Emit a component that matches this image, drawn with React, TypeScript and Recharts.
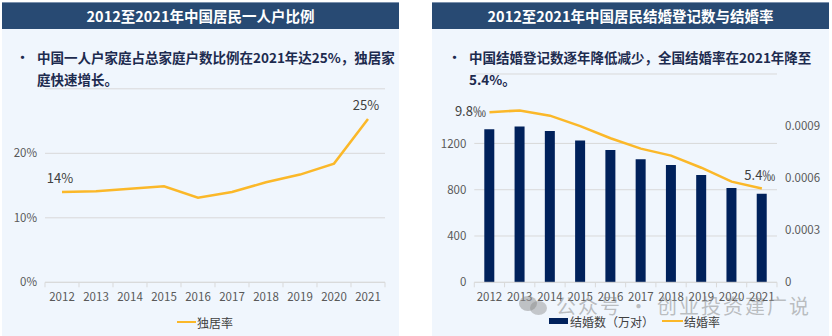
import React from "react";
import { LineChart, Line, XAxis, YAxis, CartesianGrid, ComposedChart, Bar, LabelList } from "recharts";

const years = ["2012", "2013", "2014", "2015", "2016", "2017", "2018", "2019", "2020", "2021"];
// 独居率 (%)
const aloneRate = [14.0, 14.1, 14.5, 14.9, 13.1, 14.0, 15.5, 16.7, 18.4, 25.3];
const aloneTicks = [0, 10, 20];
// 结婚数（万对）
const marriages = [1323.6, 1346.9, 1306.7, 1224.7, 1142.8, 1063.1, 1013.9, 927.3, 814.3, 764.3];
// 结婚率 (as drawn on the right axis)
const marriageRate = [0.00098, 0.00099, 0.00096, 0.0009, 0.00083, 0.00077, 0.00073, 0.00066, 0.00058, 0.00054];
const countTicks = [0, 400, 800, 1200];
const rateTicks = [0, 0.0003, 0.0006, 0.0009];

const FONT = '"Noto Sans CJK SC", "Noto Sans", sans-serif';
const NAVY = "#284a73";
const PANEL = "#f0f6fd";
const GOLD = "#fbb829";
const BAR = "#00215b";
const GRID = "#d9d9d9";
const TICK = "#595959";

const aloneData = years.map((y, i) => ({ year: y, rate: aloneRate[i] }));
const marriageData = years.map((y, i) => ({ year: y, count: marriages[i], rate: marriageRate[i] }));

function BoundaryTick(props: any) {
  const { x, y, payload, half, count } = props;
  const index = props.index ?? payload.index;
  return (
    <g>
      <line x1={x - half} y1={y} x2={x - half} y2={y + 5} stroke={GRID} />
      {index === count - 1 && <line x1={x + half} y1={y} x2={x + half} y2={y + 5} stroke={GRID} />}
      <text x={x} y={y + 19} textAnchor="middle" fill={TICK} fontSize={11.5} fontFamily={FONT}>
        {payload.value}
      </text>
    </g>
  );
}

function EndLabel(props: any) {
  const { x, y, value, index, fmt, side } = props;
  if (index !== 0 && index !== years.length - 1) return null;
  const s = index === 0 ? side[0] : side[1];
  const lx = s === "left" ? x - 19 : x - 2;
  const ly = s === "left" ? y + 4 : y - 9;
  return (
    <text x={lx} y={ly} textAnchor="middle" fill="#404040" fontSize={13} fontFamily={FONT}>
      {fmt(value)}
    </text>
  );
}

function Header({ left, title }: { left: number; title: string }) {
  return (
    <div
      style={{
        position: "absolute",
        left,
        top: 2,
        width: 397,
        height: 27,
        background: NAVY,
        borderTop: "1px solid #7b91ad",
        boxSizing: "border-box",
        color: "#fff",
        fontWeight: 700,
        fontSize: 14.5,
        lineHeight: "26px",
        textAlign: "center",
      }}
    >
      {title}
    </div>
  );
}

function Bullet({ left, children }: { left: number; children: React.ReactNode }) {
  return (
    <>
      <div style={{ position: "absolute", left, top: 46, fontSize: 13, lineHeight: "22px", color: "#1d2b4f", fontWeight: 700 }}>•</div>
      <div
        style={{
          position: "absolute",
          left: left + 21,
          top: 46,
          fontSize: 13.5,
          lineHeight: "22px",
          color: "#1d2b4f",
          fontWeight: 700,
          whiteSpace: "nowrap",
        }}
      >
        {children}
      </div>
    </>
  );
}

export default function App() {
  return (
    <div style={{ position: "absolute", left: 0, top: 0, width: 832, height: 336, background: "#fff", fontFamily: FONT, overflow: "hidden" }}>
      <div style={{ position: "absolute", left: 2, top: 29, width: 397, height: 307, background: PANEL }} />
      <div style={{ position: "absolute", left: 432, top: 29, width: 397, height: 307, background: PANEL }} />
      <Header left={2} title="2012至2021年中国居民一人户比例" />
      <Header left={432} title="2012至2021年中国居民结婚登记数与结婚率" />
      <Bullet left={16}>
        中国一人户家庭占总家庭户数比例在2021年达25%，独居家
        <br />
        庭快速增长。
      </Bullet>
      <Bullet left={448}>
        中国结婚登记数逐年降低减少，全国结婚率在2021年降至
        <br />
        5.4%。
      </Bullet>

      <div style={{ position: "absolute", left: 0, top: 0 }}>
        <LineChart width={400} height={336} data={aloneData} margin={{ top: 88.8, right: 15, left: 0, bottom: 23.7 }}>
          <CartesianGrid vertical={false} stroke={GRID} />
          <XAxis
            dataKey="year"
            height={30}
            padding={{ left: 17, right: 17 }}
            axisLine={{ stroke: GRID }}
            tickLine={false}
            tickSize={0}
            tickMargin={0}
            interval={0}
            tick={(p: any) => <BoundaryTick {...p} half={17} count={years.length} />}
          />
          <YAxis
            width={45}
            domain={[0, 30]}
            ticks={aloneTicks}
            axisLine={false}
            tickLine={false}
            tick={{ fill: TICK, fontSize: 11.5, fontFamily: FONT }}
            tickFormatter={(v: number) => `${v}%`}
          />
          <Line type="linear" dataKey="rate" stroke={GOLD} strokeWidth={2.5} dot={false} isAnimationActive={false}>
            <LabelList
              dataKey="rate"
              content={(p: any) => <EndLabel {...p} side={["top", "top"]} fmt={(v: number) => `${Math.round(v)}%`} />}
            />
          </Line>
        </LineChart>
      </div>

      <div style={{ position: "absolute", left: 416, top: 0 }}>
        <ComposedChart width={416} height={336} data={marriageData} margin={{ top: 74, right: 0, left: 0, bottom: 23.7 }}>
          <CartesianGrid vertical={false} stroke={GRID} />
          <XAxis
            dataKey="year"
            height={30}
            axisLine={{ stroke: GRID }}
            tickLine={false}
            tickSize={0}
            tickMargin={0}
            interval={0}
            tick={(p: any) => <BoundaryTick {...p} half={15.14} count={years.length} />}
          />
          <YAxis
            width={58.3}
            domain={[0, 1800]}
            ticks={countTicks}
            axisLine={false}
            tickLine={false}
            tick={{ fill: TICK, fontSize: 11.5, fontFamily: FONT }}
          />
          <YAxis
            yAxisId="r"
            orientation="right"
            width={55}
            domain={[0, 0.0012]}
            ticks={rateTicks}
            axisLine={false}
            tickLine={false}
            tick={{ fill: TICK, fontSize: 11.5, fontFamily: FONT }}
            tickFormatter={(v: number) => (v === 0 ? "0" : v.toFixed(4))}
          />
          <Bar dataKey="count" fill={BAR} barSize={10} isAnimationActive={false} />
          <Line yAxisId="r" type="linear" dataKey="rate" stroke={GOLD} strokeWidth={2.5} dot={false} isAnimationActive={false}>
            <LabelList
              dataKey="rate"
              content={(p: any) => <EndLabel {...p} side={["left", "top"]} fmt={(v: number) => `${(v * 10000).toFixed(1)}‰`} />}
            />
          </Line>
        </ComposedChart>
      </div>

      {/* legends */}
      <div style={{ position: "absolute", left: 177, top: 313, display: "flex", alignItems: "center", height: 18, fontSize: 12, color: "#404040" }}>
        <span style={{ display: "inline-block", width: 19, height: 2.5, background: GOLD, marginRight: 1 }} />
        独居率
      </div>
      <div style={{ position: "absolute", left: 549, top: 312, display: "flex", alignItems: "center", height: 18, fontSize: 12, color: "#404040" }}>
        <span style={{ display: "inline-block", width: 19, height: 6.5, background: BAR, marginRight: 2 }} />
        结婚数（万对）
        <span style={{ display: "inline-block", width: 21, height: 2.5, background: GOLD, marginLeft: 8, marginRight: 1 }} />
        结婚率
      </div>

      {/* watermark */}
      <div style={{ position: "absolute", left: 519, top: 292, height: 26, display: "flex", alignItems: "center", color: "rgba(140,140,140,0.55)", fontSize: 20, letterSpacing: 2, whiteSpace: "nowrap" }}>
        <span style={{ position: "relative", display: "inline-block", width: 30, height: 20, marginRight: 7 }}>
          <span style={{ position: "absolute", left: 0, top: 1, width: 18, height: 15, borderRadius: "50%", background: "rgba(140,140,140,0.5)" }} />
          <span style={{ position: "absolute", left: 11, top: 6, width: 17, height: 14, borderRadius: "50%", background: "rgba(140,140,140,0.45)" }} />
        </span>
        公众号 · 创业投资建广说
      </div>
    </div>
  );
}
